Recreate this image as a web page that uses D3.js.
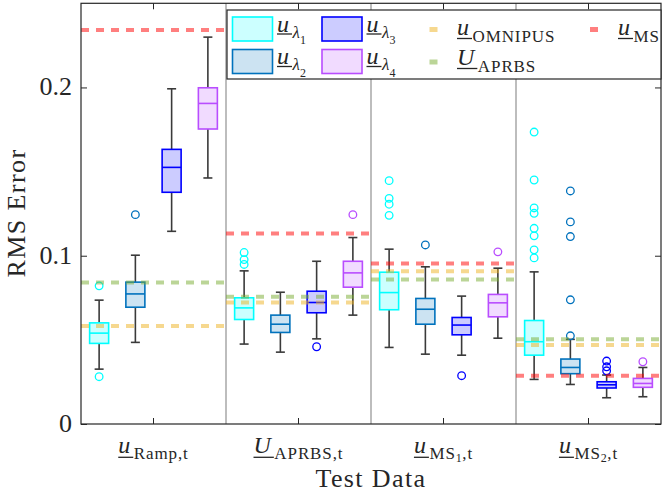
<!DOCTYPE html>
<html>
<head>
<meta charset="utf-8">
<script src="https://cdn.jsdelivr.net/npm/d3@7"></script>
<style>
body { margin: 0; background: #fff; }
text { font-family: "Liberation Serif", "Times New Roman", serif; fill: #262626; }
</style>
</head>
<body>
<div id="chart"></div>
<script>
// test data sets (x groups)
var groups = ["Ramp", "APRBS", "MS1", "MS2"];
var seriesKeys = ["l1", "l2", "l3", "l4"];

// box stats per group: [lower whisker, q1, median, q3, upper whisker]
var lambda1Stats = [[0.0326, 0.0479, 0.0540, 0.0601, 0.0736], [0.0475, 0.0621, 0.0690, 0.0750, 0.0910],
                    [0.0455, 0.0679, 0.0781, 0.0902, 0.1039], [0.0265, 0.0409, 0.0489, 0.0615, 0.0904]];
var lambda2Stats = [[0.0485, 0.0694, 0.0773, 0.0843, 0.1003], [0.0427, 0.0544, 0.0593, 0.0647, 0.0783],
                    [0.0415, 0.0593, 0.0682, 0.0746, 0.0934], [0.0235, 0.0299, 0.0336, 0.0386, 0.0503]];
var lambda3Stats = [[0.1145, 0.1377, 0.1525, 0.1632, 0.1992], [0.0506, 0.0661, 0.0722, 0.0789, 0.0967],
                    [0.0409, 0.0530, 0.0588, 0.0633, 0.0760], [0.0156, 0.0214, 0.0233, 0.0251, 0.0291]];
var lambda4Stats = [[0.1462, 0.1753, 0.1905, 0.1998, 0.2299], [0.0647, 0.0813, 0.0898, 0.0967, 0.1108],
                    [0.0510, 0.0637, 0.0720, 0.0770, 0.0926], [0.0162, 0.0218, 0.0241, 0.0271, 0.0336]];

// outliers per group
var lambda1Outliers = [[0.0821, 0.0281], [0.1019, 0.0977, 0.0948], [0.1446, 0.1341, 0.1306, 0.1240],
                       [0.1735, 0.1450, 0.1284, 0.1252, 0.1163, 0.1118, 0.1035, 0.0987]];
var lambda2Outliers = [[0.1244], [], [0.1064], [0.1385, 0.1201, 0.1114, 0.0738, 0.0524]];
var lambda3Outliers = [[], [0.0459], [0.0287], [0.0374, 0.0340, 0.0316]];
var lambda4Outliers = [[], [0.1244], [0.1023], [0.0370]];

// reference RMS errors (dashed lines) per group
var omnipusRef = [0.0583, 0.0722, 0.0908, 0.0469];
var aprbsRef = [0.0841, 0.0756, 0.0859, 0.0504];
var msRef = [0.2342, 0.1132, 0.0954, 0.0287];

var yTicks = [0, 0.1, 0.2];

var statsBySeries = [lambda1Stats, lambda2Stats, lambda3Stats, lambda4Stats];
var outliersBySeries = [lambda1Outliers, lambda2Outliers, lambda3Outliers, lambda4Outliers];
var strokeColors = ["#00ffff", "#0072bd", "#0000ff", "#b94dff"];
var fillColors = ["#ccffff", "#cce3f2", "#ccccff", "#f1dbff"];

var margin = {top: 3.3, right: 2, bottom: 69, left: 81},
    width = 663 - margin.left - margin.right,
    height = 493 - margin.top - margin.bottom;

var svg = d3.select("#chart")
    .append("svg")
    .attr("width", 663)
    .attr("height", 493)
    .append("g")
    .attr("transform", "translate(" + margin.left + "," + margin.top + ")");

var x = d3.scaleBand().domain(groups).range([0, width]);
var xs = d3.scaleBand().domain(seriesKeys).range([0, x.bandwidth()]);
var y = d3.scaleLinear().domain([0, 0.25]).range([height, 0]);

var boxW = 19, capW = 9;

// group separators
svg.append("g").selectAll("line")
    .data(groups.slice(1))
    .enter()
    .append("line")
    .attr("x1", function(d) { return x(d); })
    .attr("x2", function(d) { return x(d); })
    .attr("y1", 0)
    .attr("y2", height)
    .attr("stroke", "#9a9a9a")
    .attr("stroke-width", 1.3);

// boxes
seriesKeys.forEach(function(key, si) {
    var rows = groups.map(function(g, gi) {
        var s = statsBySeries[si][gi];
        return {g: g, lw: s[0], q1: s[1], med: s[2], q3: s[3], uw: s[4], out: outliersBySeries[si][gi]};
    });
    var cx = function(d) { return x(d.g) + xs(key) + xs.bandwidth() / 2; };
    var bg = svg.append("g");

    var item = bg.selectAll("g").data(rows).enter().append("g");

    // whiskers
    item.append("line")
        .attr("x1", cx).attr("x2", cx)
        .attr("y1", function(d) { return y(d.uw); })
        .attr("y2", function(d) { return y(d.q3); })
        .attr("stroke", "#3a3a3a").attr("stroke-width", 1.6);
    item.append("line")
        .attr("x1", cx).attr("x2", cx)
        .attr("y1", function(d) { return y(d.q1); })
        .attr("y2", function(d) { return y(d.lw); })
        .attr("stroke", "#3a3a3a").attr("stroke-width", 1.6);
    item.append("line")
        .attr("x1", function(d) { return cx(d) - capW / 2; })
        .attr("x2", function(d) { return cx(d) + capW / 2; })
        .attr("y1", function(d) { return y(d.uw); })
        .attr("y2", function(d) { return y(d.uw); })
        .attr("stroke", "#3a3a3a").attr("stroke-width", 1.6);
    item.append("line")
        .attr("x1", function(d) { return cx(d) - capW / 2; })
        .attr("x2", function(d) { return cx(d) + capW / 2; })
        .attr("y1", function(d) { return y(d.lw); })
        .attr("y2", function(d) { return y(d.lw); })
        .attr("stroke", "#3a3a3a").attr("stroke-width", 1.6);

    // box
    item.append("rect")
        .attr("x", function(d) { return cx(d) - boxW / 2; })
        .attr("y", function(d) { return y(d.q3); })
        .attr("width", boxW)
        .attr("height", function(d) { return y(d.q1) - y(d.q3); })
        .attr("fill", fillColors[si])
        .attr("stroke", strokeColors[si])
        .attr("stroke-width", 1.6);
    item.append("line")
        .attr("x1", function(d) { return cx(d) - boxW / 2; })
        .attr("x2", function(d) { return cx(d) + boxW / 2; })
        .attr("y1", function(d) { return y(d.med); })
        .attr("y2", function(d) { return y(d.med); })
        .attr("stroke", strokeColors[si]).attr("stroke-width", 1.6);

    // outliers
    item.selectAll("circle")
        .data(function(d) { return d.out.map(function(v) { return {g: d.g, v: v}; }); })
        .enter()
        .append("circle")
        .attr("cx", cx)
        .attr("cy", function(d) { return y(d.v); })
        .attr("r", 3.8)
        .attr("fill", "none")
        .attr("stroke", strokeColors[si])
        .attr("stroke-width", 1.3);
});

// dashed reference lines
var refs = [
    {vals: msRef, color: "#ff0000"},
    {vals: omnipusRef, color: "#edb120"},
    {vals: aprbsRef, color: "#77ac30"}
];
refs.forEach(function(r) {
    svg.append("g").selectAll("line")
        .data(groups)
        .enter()
        .append("line")
        .attr("x1", function(d) { return x(d); })
        .attr("x2", function(d) { return x(d) + x.bandwidth(); })
        .attr("y1", function(d, i) { return y(r.vals[i]); })
        .attr("y2", function(d, i) { return y(r.vals[i]); })
        .attr("stroke", r.color)
        .attr("stroke-opacity", 0.5)
        .attr("stroke-width", 4)
        .attr("stroke-dasharray", "8,7");
});

// axes with inward ticks
var yAxis = svg.append("g")
    .call(d3.axisLeft(y).tickValues(yTicks).tickSize(-6).tickPadding(9)
        .tickFormat(function(d) { return d === 0 ? "0" : d.toFixed(1); }));
yAxis.selectAll("text").attr("font-size", 26).attr("font-family", null).style("fill", "#262626").attr("dy", "0.28em");
svg.append("g").attr("transform", "translate(" + width + ",0)")
    .call(d3.axisRight(y).tickValues(yTicks).tickSize(-6).tickFormat(""));
svg.append("g").attr("transform", "translate(0," + height + ")")
    .call(d3.axisBottom(x).tickSize(-6).tickFormat(""));
svg.append("g")
    .call(d3.axisTop(x).tickSize(-6).tickFormat(""));
svg.selectAll(".domain").remove();
svg.selectAll(".tick line").attr("stroke", "#262626");

svg.append("rect")
    .attr("width", width).attr("height", height)
    .attr("fill", "none").attr("stroke", "#262626").attr("stroke-width", 1.2);

// math-like label: underlined italic letter with subscripts
function mathLabel(parent, o) {
    var g = parent.append("g");
    var t = g.append("text").attr("font-style", "italic").attr("font-size", o.mainSize).text(o.main);
    var w = t.node().getComputedTextLength() + o.ulExtra;
    g.append("line").attr("x1", 0).attr("x2", w).attr("y1", o.ulY).attr("y2", o.ulY)
        .attr("stroke", "#262626").attr("stroke-width", 1.3);
    var cx = w + 0.5;
    var s = g.append("text").attr("x", cx).attr("y", o.subDy).attr("font-size", o.subSize)
        .attr("font-style", o.subItalic ? "italic" : "normal").attr("letter-spacing", o.subItalic ? 0 : 0.9)
        .text(o.sub);
    cx += s.node().getComputedTextLength();
    if (o.sub2) {
        var s2 = g.append("text").attr("x", cx).attr("y", o.sub2Dy).attr("font-size", o.sub2Size).text(o.sub2);
        cx += s2.node().getComputedTextLength() + 0.5;
    }
    if (o.tail) {
        var s3 = g.append("text").attr("x", cx).attr("y", o.subDy).attr("font-size", o.subSize)
            .attr("letter-spacing", 0.9).text(o.tail);
        cx += s3.node().getComputedTextLength();
    }
    var x0 = o.anchor === "middle" ? o.x - cx / 2 : o.x;
    g.attr("transform", "translate(" + x0 + "," + o.y + ")");
    return g;
}

// x tick labels
var xLabels = [
    {main: "u", sub: "Ramp", tail: ",t"},
    {main: "U", sub: "APRBS", tail: ",t"},
    {main: "u", sub: "MS", sub2: "1", tail: ",t"},
    {main: "u", sub: "MS", sub2: "2", tail: ",t"}
];
xLabels.forEach(function(l, i) {
    mathLabel(svg, {x: x(groups[i]) + x.bandwidth() / 2, y: 450, anchor: "middle",
        main: l.main, mainSize: 24, ulExtra: 3, ulY: 4,
        sub: l.sub, subSize: 17, subDy: 5.5, sub2: l.sub2, sub2Size: 12, sub2Dy: 9, tail: l.tail});
});

// axis titles
svg.append("text")
    .attr("x", width / 2).attr("y", 486.7 - margin.top)
    .attr("text-anchor", "middle").attr("font-size", 26).attr("letter-spacing", 1.4)
    .text("Test Data");
svg.append("text")
    .attr("transform", "translate(" + (25 - margin.left) + "," + (213 - margin.top) + ") rotate(-90)")
    .attr("text-anchor", "middle").attr("font-size", 26).attr("letter-spacing", 1.4)
    .text("RMS Error");

// legend
var leg = d3.select("svg").append("g");
leg.append("rect")
    .attr("x", 227).attr("y", 10).attr("width", 661 - 227).attr("height", 69)
    .attr("fill", "#fff").attr("stroke", "#262626").attr("stroke-width", 1.2);

var boxLegend = [
    {si: 0, x: 232.5, y: 17, sub2: "1", ly: 31.5},
    {si: 1, x: 232.5, y: 49.5, sub2: "2", ly: 64},
    {si: 2, x: 322, y: 17, sub2: "3", ly: 31.5},
    {si: 3, x: 322, y: 49.5, sub2: "4", ly: 64}
];
boxLegend.forEach(function(b) {
    leg.append("rect")
        .attr("x", b.x).attr("y", b.y).attr("width", 40).attr("height", 24)
        .attr("fill", fillColors[b.si]).attr("stroke", strokeColors[b.si]).attr("stroke-width", 1.6);
    mathLabel(leg, {x: b.x + 44.5, y: b.ly, main: "u", mainSize: 24, ulExtra: 3, ulY: 2.5,
        sub: "λ", subItalic: true, subSize: 17, subDy: 6, sub2: b.sub2, sub2Size: 12, sub2Dy: 12.5});
});

var lineLegend = [
    {color: "#edb120", x: 429.5, y: 27, lx: 457, ly: 35, main: "u", sub: "OMNIPUS"},
    {color: "#77ac30", x: 429.5, y: 59.5, lx: 457, ly: 65, main: "U", sub: "APRBS"},
    {color: "#ff0000", x: 590, y: 27, lx: 618, ly: 35, main: "u", sub: "MS"}
];
lineLegend.forEach(function(l) {
    leg.append("rect")
        .attr("x", l.x).attr("y", l.y).attr("width", 8).attr("height", 5)
        .attr("fill", l.color).attr("fill-opacity", 0.5);
    mathLabel(leg, {x: l.lx, y: l.ly, main: l.main, mainSize: 24, ulExtra: 3, ulY: 3.5,
        sub: l.sub, subSize: 17, subDy: 7});
});
</script>
</body>
</html>
